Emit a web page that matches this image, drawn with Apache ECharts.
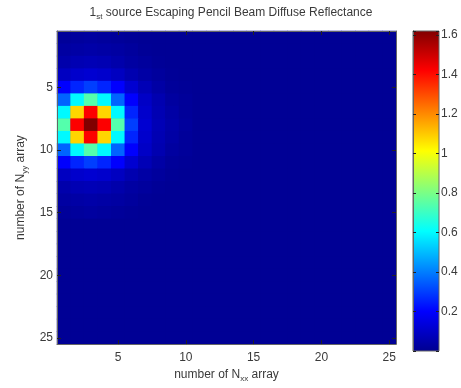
<!DOCTYPE html>
<html><head><meta charset="utf-8">
<script src="https://cdn.jsdelivr.net/npm/echarts@6/dist/echarts.min.js"></script>
<style>html,body{margin:0;padding:0;background:#fff}#c{width:461px;height:388px}</style>
</head><body><div id="c"></div>
<script>
// ---- data ----
const xCategories = Array.from({length: 25}, (_, i) => String(i + 1));
const yCategories = Array.from({length: 25}, (_, i) => String(i + 1));
const axisTickLabels = ['5', '10', '15', '20', '25'];
const colorbarTickLabels = ['0.2', '0.4', '0.6', '0.8', '1', '1.2', '1.4', '1.6'];
const backgroundValue = 0.01;
// rows 1..15, columns 1..10 (remaining cells are background)
const row01 = [0.02, 0.025, 0.03, 0.025, 0.02, 0.015, 0.01, 0.01, 0.01, 0.01];
const row02 = [0.035, 0.04, 0.045, 0.04, 0.035, 0.025, 0.015, 0.01, 0.01, 0.01];
const row03 = [0.05, 0.065, 0.07, 0.065, 0.05, 0.035, 0.025, 0.015, 0.01, 0.01];
const row04 = [0.09, 0.11, 0.12, 0.11, 0.09, 0.06, 0.04, 0.025, 0.015, 0.01];
const row05 = [0.2, 0.26, 0.3, 0.26, 0.2, 0.12, 0.07, 0.04, 0.02, 0.015];
const row06 = [0.36, 0.6, 0.74, 0.6, 0.36, 0.2, 0.1, 0.06, 0.03, 0.02];
const row07 = [0.6, 1.08, 1.42, 1.08, 0.6, 0.26, 0.11, 0.065, 0.04, 0.02];
const row08 = [0.74, 1.42, 1.62, 1.42, 0.74, 0.3, 0.12, 0.07, 0.045, 0.025];
const row09 = [0.6, 1.08, 1.42, 1.08, 0.6, 0.26, 0.11, 0.065, 0.04, 0.02];
const row10 = [0.36, 0.6, 0.74, 0.6, 0.36, 0.2, 0.1, 0.06, 0.03, 0.02];
const row11 = [0.2, 0.26, 0.3, 0.26, 0.2, 0.12, 0.07, 0.04, 0.02, 0.015];
const row12 = [0.09, 0.11, 0.12, 0.11, 0.09, 0.06, 0.04, 0.025, 0.015, 0.01];
const row13 = [0.05, 0.065, 0.07, 0.065, 0.05, 0.035, 0.025, 0.015, 0.01, 0.01];
const row14 = [0.035, 0.04, 0.045, 0.04, 0.035, 0.025, 0.015, 0.01, 0.01, 0.01];
const row15 = [0.02, 0.025, 0.03, 0.025, 0.02, 0.015, 0.01, 0.01, 0.01, 0.01];
const rows = [row01,row02,row03,row04,row05,row06,row07,row08,row09,row10,row11,row12,row13,row14,row15];
const colorMin = 0, colorMax = 1.62;
const jetColors = ['#00008f','#0000ff','#0080ff','#00ffff','#80ff80','#ffff00','#ff8000','#ff0000','#800000'];

// ---- build ----
const heatData = [];
for (let y = 0; y < yCategories.length; y++) {
  for (let x = 0; x < xCategories.length; x++) {
    const r = rows[y];
    const v = (r && r[x] !== undefined) ? r[x] : backgroundValue;
    heatData.push([x, y, v]);
  }
}
const showTick = (idx, val) => axisTickLabels.indexOf(String(val)) >= 0 || axisTickLabels.indexOf(xCategories[idx]) >= 0;
const textColor = '#3a3a3a';
const font = 'Liberation Sans, Arial, sans-serif';
const frameColor = '#666';
const tickColor = '#222';
const subRich = {sub: {fontSize: 8, padding: [8, 0, 0, 0], color: textColor, fontFamily: font}};

function catAxis(pos, labels, extra) {
  const vertical = pos === 'left' || pos === 'right';
  return Object.assign({
    type: 'category', gridIndex: 0, position: pos, z: 10,
    data: vertical ? yCategories : xCategories,
    boundaryGap: true,
    axisLine: {show: true, onZero: false, lineStyle: {color: frameColor, width: 1}},
    axisTick: {show: true, inside: true, alignWithLabel: true, length: 4, interval: showTick, lineStyle: {color: tickColor}},
    axisLabel: {show: labels, interval: showTick, color: textColor, fontSize: 12, fontFamily: font, margin: vertical ? 4 : 8},
    splitLine: {show: false}
  }, extra || {});
}
function barAxis(pos, extra) {
  return Object.assign({
    type: 'value', gridIndex: 1, position: pos, min: colorMin, max: colorMax, interval: 0.2, z: 10,
    axisLine: {show: false},
    axisTick: {show: false},
    axisLabel: {show: false}, splitLine: {show: false}
  }, extra);
}

const gradStops = jetColors.map((c, i) => ({offset: 1 - i / (jetColors.length - 1), color: c})).reverse();

const option = {
  animation: false,
  backgroundColor: '#fff',
  title: {
    text: '1{sub|st} source Escaping Pencil Beam Diffuse Reflectance',
    left: 226, textAlign: 'center', top: 0,
    textStyle: {fontSize: 12, fontWeight: 'normal', color: textColor, fontFamily: font, rich: subRich}
  },
  grid: [
    {left: 57, top: 31, width: 339, height: 319, show: true, backgroundColor: '#00008f', borderWidth: 0},
    {left: 413, top: 31, width: 26, height: 320}
  ],
  xAxis: [
    catAxis('bottom', true, {
      name: 'number of N{sub|xx} array', nameLocation: 'middle', nameGap: 22,
      nameTextStyle: {fontSize: 12, color: textColor, fontFamily: font, rich: subRich}
    }),
    catAxis('top', false),
    {type: 'value', gridIndex: 1, show: false, min: 0, max: 1}
  ],
  yAxis: [
    catAxis('left', true, {
      inverse: true,
      name: 'number of N{sub|yy} array', nameLocation: 'middle', nameGap: 21,
      nameTextStyle: {fontSize: 12, color: textColor, fontFamily: font, rich: subRich}
    }),
    catAxis('right', false, {inverse: true}),
    // colorbar labels (right side)
    barAxis('right', {
      axisLine: {show: true, lineStyle: {color: frameColor}},
      axisLabel: {
        show: true, color: textColor, fontSize: 12, fontFamily: font, margin: 2,
        formatter: v => {
          const s = String(Math.round(v * 10) / 10);
          return colorbarTickLabels.indexOf(s) >= 0 && Math.abs(v * 5 - Math.round(v * 5)) < 1e-6 ? s : '';
        }
      }
    }),
    // colorbar ticks along the left edge, pointing into the bar
    barAxis('left', {
      axisLine: {show: true, lineStyle: {color: frameColor}},
      axisTick: {show: true, inside: false, length: -3, lineStyle: {color: tickColor}}
    }),
    // colorbar ticks along the right edge, pointing into the bar
    barAxis('left', {
      offset: -26,
      axisTick: {show: true, inside: false, length: 3, lineStyle: {color: tickColor}}
    })
  ],
  visualMap: {
    type: 'continuous', show: false, min: colorMin, max: colorMax, dimension: 2, seriesIndex: 0,
    inRange: {color: jetColors}
  },
  graphic: [{
    type: 'rect', z: -1,
    shape: {x: 413, y: 31, width: 26, height: 320},
    style: {fill: {type: 'linear', x: 0, y: 0, x2: 0, y2: 1, colorStops: gradStops}, stroke: frameColor, lineWidth: 1}
  }],
  series: [{
    type: 'heatmap', xAxisIndex: 0, yAxisIndex: 0, data: heatData,
    progressive: 0, emphasis: {disabled: true}, itemStyle: {borderWidth: 0}
  }]
};
const chart = echarts.init(document.getElementById('c'), null, {renderer: 'canvas'});
chart.setOption(option);
</script></body></html>
